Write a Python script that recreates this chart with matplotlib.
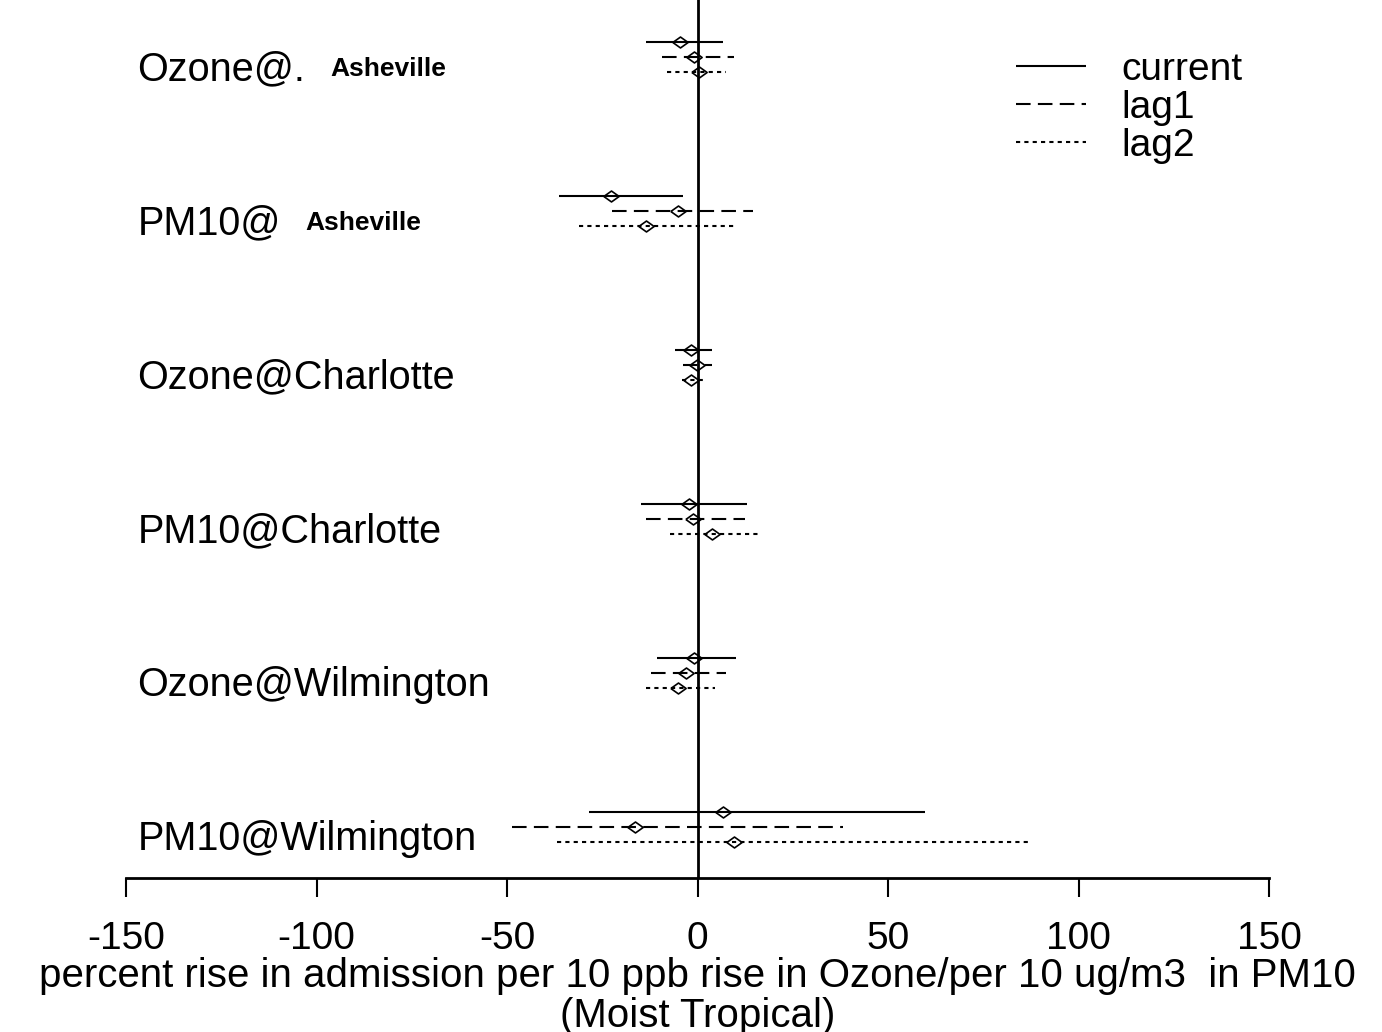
import matplotlib
matplotlib.use("Agg")
from matplotlib import pyplot as plt
import numpy as np

plt.rcParams['font.family'] = ['Liberation Sans', 'DejaVu Sans']

# groups from top to bottom
groups = ['Ozone@Asheville', 'PM10@Asheville', 'Ozone@Charlotte',
          'PM10@Charlotte', 'Ozone@Wilmington', 'PM10@Wilmington']
series = ['current', 'lag1', 'lag2']

# point estimates (percent rise)
est_current = [-4.5, -22.6, -1.8, -2.3, -1.0, 6.8]
est_lag1 = [-1.0, -5.2, -0.1, -1.1, -3.1, -16.5]
est_lag2 = [0.5, -13.5, -1.8, 3.9, -5.2, 9.5]

# lower / upper limits
lo_current = [-13.5, -36.4, -5.8, -14.8, -10.6, -28.6]
hi_current = [6.7, -3.8, 3.9, 13.0, 10.2, 59.8]
lo_lag1 = [-9.3, -22.4, -3.8, -13.5, -12.1, -48.8]
hi_lag1 = [9.5, 14.5, 3.9, 12.4, 7.4, 38.3]
lo_lag2 = [-8.0, -31.0, -4.0, -7.1, -13.5, -36.8]
hi_lag2 = [7.6, 9.7, 2.5, 16.5, 4.7, 87.7]

xticks = [-150, -100, -50, 0, 50, 100, 150]

fig = plt.figure(figsize=(13.82, 10.32), dpi=100)
ax = fig.add_axes([126 / 1382, 1 - 878 / 1032, 1143 / 1382, 878 / 1032])

ypos = np.arange(len(groups), 0, -1)
offsets = [0.1, 0.0, -0.1]
styles = ['-', (0, (7, 3.5)), (0, (2, 2))]
ests = [est_current, est_lag1, est_lag2]
los = [lo_current, lo_lag1, lo_lag2]
his = [hi_current, hi_lag1, hi_lag2]

# flattened diamond marker
diamond = [(-1.4, 0), (0, 1), (1.4, 0), (0, -1), (-1.4, 0)]

for k in range(3):
    y = ypos + offsets[k]
    ax.hlines(y, los[k], his[k], colors='black', linestyles=styles[k],
              linewidth=1.5, label=series[k])
    ax.plot(ests[k], y, linestyle='none', marker=diamond, markersize=11,
            markerfacecolor='none', markeredgecolor='black', markeredgewidth=1.2)

ax.axvline(0, color='black', linewidth=2)

# row labels
lab_y = ypos - 0.08
ax.text(-147, lab_y[0], 'Ozone@.', fontsize=28.5, va='center', ha='left')
ax.text(-96.3, lab_y[0], 'Asheville', fontsize=19, fontweight='bold', va='center', ha='left')
ax.text(-147, lab_y[1], 'PM10@', fontsize=28.5, va='center', ha='left')
ax.text(-102.9, lab_y[1], 'Asheville', fontsize=19, fontweight='bold', va='center', ha='left')
for i in range(2, len(groups)):
    ax.text(-147, lab_y[i], groups[i], fontsize=28.5, va='center', ha='left')

ax.set_xlim(-150, 150)
ax.set_ylim(0.669, 6.37)
ax.set_xticks(xticks)
ax.set_xticklabels([str(t) for t in xticks])
ax.set_yticks([])
for s in ['top', 'right', 'left']:
    ax.spines[s].set_visible(False)
ax.spines['bottom'].set_linewidth(2)
ax.tick_params(axis='x', length=14, width=1.5, labelsize=28, pad=17)
ax.set_xlabel('percent rise in admission per 10 ppb rise in Ozone/per 10 ug/m3  in PM10\n(Moist Tropical)',
              fontsize=29, linespacing=1.05, labelpad=0)

ax.legend(loc='upper right', bbox_to_anchor=(1.007, 0.981), frameon=False,
          fontsize=28, handlelength=1.8, handletextpad=0.9, labelspacing=0.05)

fig.savefig('out.png', dpi=100)
